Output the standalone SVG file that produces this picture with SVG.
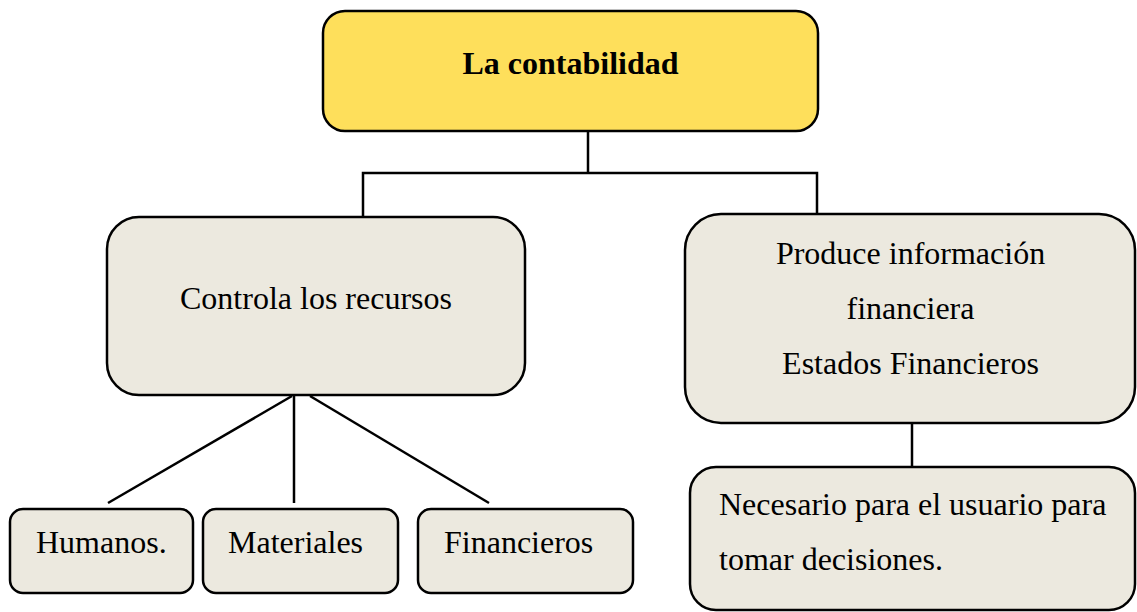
<svg xmlns="http://www.w3.org/2000/svg" width="1137" height="612" viewBox="0 0 1137 612">
<style>
.box{fill:#ECE9DF;stroke:#000;stroke-width:2.5}
.top{fill:#FEDF5B;stroke:#000;stroke-width:2.5}
.t{font-family:"Liberation Serif","Times New Roman",serif;font-size:32px;fill:#000}
.c{text-anchor:middle}
.b{font-weight:bold}
.conn line,.conn polyline{stroke:#000;stroke-width:2.5;fill:none}
</style>
<rect width="1137" height="612" fill="#fff"/>
<g class="conn">
<line x1="588" y1="131" x2="588" y2="173"/>
<polyline points="363,217 363,173 817,173 817,214"/>
<line x1="292" y1="396" x2="108" y2="503"/>
<line x1="294" y1="396" x2="294" y2="503"/>
<line x1="310" y1="396" x2="489" y2="503"/>
<line x1="912" y1="423" x2="912" y2="467"/>
</g>
<g id="n-contabilidad">
<rect class="top" x="323" y="11" width="495" height="120" rx="22"/>
<text class="t c b" x="570.5" y="74">La contabilidad</text>
</g>
<g id="n-controla">
<rect class="box" x="107" y="217" width="418" height="178" rx="32"/>
<text class="t c" x="316" y="309">Controla los recursos</text>
</g>
<g id="n-produce">
<rect class="box" x="685" y="214" width="450" height="209" rx="36"/>
<text class="t c" x="910.5" y="264">Produce información</text>
<text class="t c" x="910.5" y="319">financiera</text>
<text class="t c" x="910.5" y="374">Estados Financieros</text>
</g>
<g id="n-humanos">
<rect class="box" x="10" y="509" width="183" height="84" rx="13"/>
<text class="t" x="36" y="553">Humanos.</text>
</g>
<g id="n-materiales">
<rect class="box" x="203" y="509" width="195" height="84" rx="13"/>
<text class="t" x="228" y="553">Materiales</text>
</g>
<g id="n-financieros">
<rect class="box" x="418" y="509" width="215" height="84" rx="13"/>
<text class="t" x="444" y="553">Financieros</text>
</g>
<g id="n-necesario">
<rect class="box" x="690" y="467" width="445" height="143" rx="26"/>
<text class="t" x="719" y="515">Necesario para el usuario para</text>
<text class="t" x="719" y="570">tomar decisiones.</text>
</g>
</svg>
